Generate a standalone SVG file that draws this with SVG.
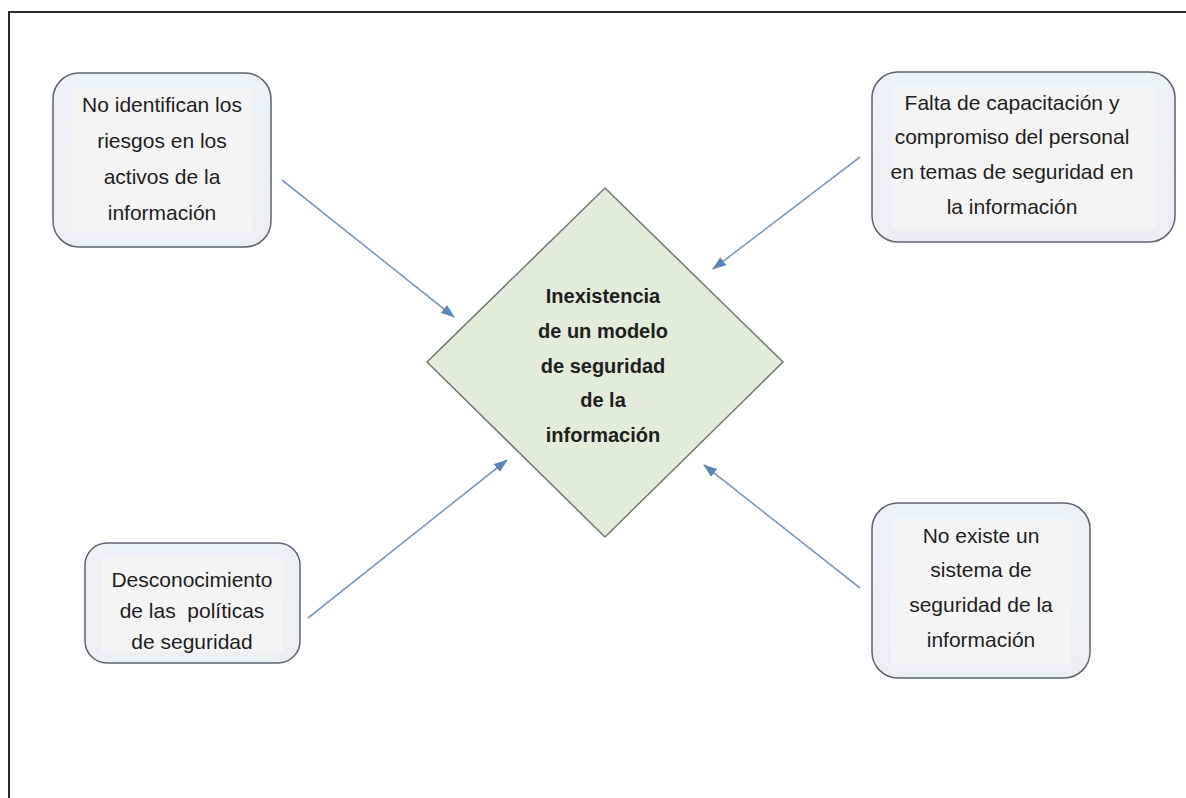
<svg xmlns="http://www.w3.org/2000/svg" width="1186" height="798" viewBox="0 0 1186 798">
  <defs>
    <linearGradient id="boxFill" x1="0" y1="0" x2="0" y2="1">
      <stop offset="0" stop-color="#eef1f5"/>
      <stop offset="1" stop-color="#eceef2"/>
    </linearGradient>
    <marker id="arrowHead" viewBox="0 0 14 10" refX="13" refY="5" markerWidth="14" markerHeight="10" markerUnits="userSpaceOnUse" orient="auto">
      <path d="M0,0 L14,5 L0,10 Z" fill="#5b86b4"/>
    </marker>
  </defs>
  <style>
    .frame { fill: none; stroke: #2b2b2b; stroke-width: 2; }
    .box { fill: url(#boxFill); stroke: #5d6370; stroke-width: 1.5; }
    .inner { fill: #f4f4f4; stroke: none; }
    .label { font-family: "Liberation Sans", Arial, sans-serif; font-size: 21px; fill: #1e1e1e; text-anchor: middle; white-space: pre; }
    .bold { font-weight: bold; font-size: 20px; }
    .diamond { fill: #e3ecd9; stroke: #6e7a70; stroke-width: 1.5; }
    .link { stroke: #7f9bb8; stroke-width: 1.6; fill: none; marker-end: url(#arrowHead); }
  </style>

  <rect width="1186" height="798" fill="#ffffff"/>
  <!-- page frame, open at right and bottom -->
  <path class="frame" d="M9,798 V12 H1186"/>

  <g id="connectors">
    <line class="link" x1="282" y1="180" x2="454" y2="317"/>
    <line class="link" x1="860" y1="157" x2="713" y2="269"/>
    <line class="link" x1="308" y1="618" x2="507" y2="460"/>
    <line class="link" x1="860" y1="588" x2="704" y2="465"/>
  </g>

  <g id="node-center">
    <polygon class="diamond" points="605,188 783,362 605,537 427,362"/>
    <text class="label bold" x="603" y="303">Inexistencia</text>
    <text class="label bold" x="603" y="338">de un modelo</text>
    <text class="label bold" x="603" y="373">de seguridad</text>
    <text class="label bold" x="603" y="407">de la</text>
    <text class="label bold" x="603" y="442">información</text>
  </g>

  <g id="node-riesgos">
    <rect class="box" x="53" y="73" width="218" height="174" rx="26"/>
    <rect class="inner" x="72" y="88" width="180" height="144"/>
    <text class="label" x="162" y="112">No identifican los</text>
    <text class="label" x="162" y="148">riesgos en los</text>
    <text class="label" x="162" y="184">activos de la</text>
    <text class="label" x="162" y="220">información</text>
  </g>

  <g id="node-capacitacion">
    <rect class="box" x="872" y="72" width="303" height="170" rx="26"/>
    <rect class="inner" x="892" y="86" width="264" height="142"/>
    <text class="label" x="1012" y="110">Falta de capacitación y</text>
    <text class="label" x="1012" y="144">compromiso del personal</text>
    <text class="label" x="1012" y="179">en temas de seguridad en</text>
    <text class="label" x="1012" y="214">la información</text>
  </g>

  <g id="node-politicas">
    <rect class="box" x="85" y="543" width="215" height="120" rx="22"/>
    <rect class="inner" x="102" y="556" width="181" height="96"/>
    <text class="label" x="192" y="587">Desconocimiento</text>
    <text class="label" x="192" y="618" xml:space="preserve">de las  políticas</text>
    <text class="label" x="192" y="649">de seguridad</text>
  </g>

  <g id="node-sistema">
    <rect class="box" x="872" y="503" width="218" height="175" rx="26"/>
    <rect class="inner" x="891" y="518" width="180" height="146"/>
    <text class="label" x="981" y="543">No existe un</text>
    <text class="label" x="981" y="577">sistema de</text>
    <text class="label" x="981" y="612">seguridad de la</text>
    <text class="label" x="981" y="647">información</text>
  </g>
</svg>
